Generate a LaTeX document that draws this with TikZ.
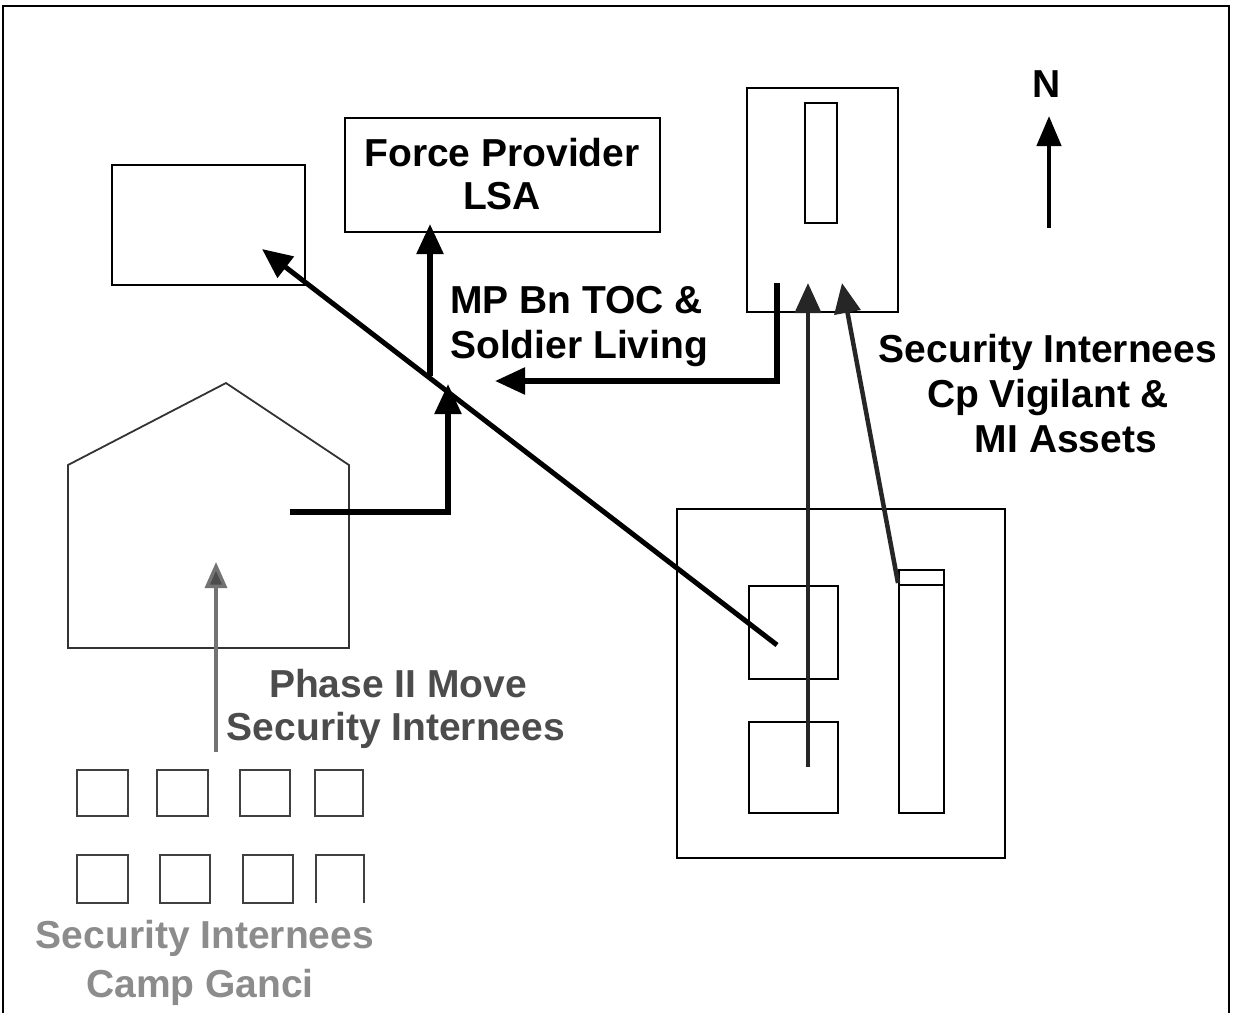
\documentclass[tikz,border=0pt]{standalone}
\usepackage{fontspec}
\setmainfont{Liberation Sans}
\usetikzlibrary{arrows.meta}
\tikzset{
  thin line/.style={draw=black,line width=1.8pt},
  bigarrow/.style={line width=5.5pt,-{Triangle[length=30pt,width=26pt]}},
  plain thick/.style={line width=5.5pt},
  lbl/.style={inner sep=0pt,font=\fontsize{39}{45}\selectfont\bfseries},
  lblgray/.style={lbl,text=black!70},
  lblpale/.style={lbl,text=black!45},
}
\begin{document}
\begin{tikzpicture}[x=1pt,y=-1pt]
\useasboundingbox[fill=white] (0,0) rectangle (1239,1013);
% frame (open at bottom)
\draw[line width=1.8pt] (3,1013) -- (3,6) -- (1229,6) -- (1229,1013);

% top-left box
\draw[thin line] (112,165) rectangle (305,285);
% Force Provider box
\draw[thin line] (345,118) rectangle (660,232);
\node[lbl,anchor=base] (fp1) at (502,166) {Force Provider};
\node[lbl,anchor=base] (fp2) at (502,209) {LSA};

% top-right building
\draw[thin line] (747,88) rectangle (898,312);
\draw[thin line] (805,103) rectangle (837,223);

% house
\draw[thin line,draw=black!80] (68,648) -- (349,648) -- (349,465) -- (226,383) -- (68,465) -- cycle;

% camp ganci squares
\foreach \x/\w in {77/51,157/51,240/50,315/48}{
  \draw[thin line,draw=black!75] (\x,770) rectangle ++(\w,46);
}
\foreach \x/\w in {77/51,160/50,243/50}{
  \draw[thin line,draw=black!75] (\x,855) rectangle ++(\w,48);
}
\draw[thin line,draw=black!75] (316,903) -- (316,855) -- (364,855) -- (364,903);

% bottom-right compound
\draw[thin line] (677,509) rectangle (1005,858);
\draw[thin line] (749,586) rectangle (838,679);
\draw[thin line] (749,722) rectangle (838,813);
\draw[thin line] (899,570) rectangle (944,813);
\draw[thin line] (899,585) -- (944,585);

% named connector points
\coordinate (diagS) at (777,645);
\coordinate (diagE) at (262,249);
\coordinate (fpS) at (430,376);
\coordinate (fpE) at (430,224);
\coordinate (hS) at (290,512);
\coordinate (hC) at (448,512);
\coordinate (hE) at (448,384);
\coordinate (trS) at (777,283);
\coordinate (trC) at (777,381);
\coordinate (trE) at (495,381);
\coordinate (v1S) at (808,767);
\coordinate (v1E) at (808,283);
\coordinate (v2S) at (898,583);
\coordinate (v2E) at (842,283);
\coordinate (gS) at (216,752);
\coordinate (gE) at (216,562);
\coordinate (nS) at (1049,228);
\coordinate (nE) at (1049,116);

% connectors
\draw[line width=5pt,-{Triangle[length=30pt,width=26pt]}] (diagS) -- (diagE);
\draw[bigarrow] (fpS) -- (fpE);
\draw[bigarrow] (hS) -- (hC) -- (hE);
\draw[bigarrow] (trS) -- (trC) -- (trE);
\draw[line width=4.5pt,draw=black!85,-{Triangle[length=30pt,width=26pt]}] (v1S) -- (v1E);
\draw[line width=4.5pt,draw=black!85,-{Triangle[length=30pt,width=26pt]}] (v2S) -- (v2E);
\draw[line width=3.5pt,draw=black!55,-{Triangle[length=26pt,width=22pt,fill=black!70]}] (gS) -- (gE);
\draw[line width=4.5pt,-{Triangle[length=30pt,width=24pt]}] (nS) -- (nE);

% labels
\node[lbl,anchor=base west] (mp1) at (450,313) {MP Bn TOC \&};
\node[lbl,anchor=base west] (mp2) at (450,358) {Soldier Living};
\node[lbl,anchor=base] (si1) at (1048,362) {Security Internees};
\node[lbl,anchor=base] (si2) at (1048,407) {Cp Vigilant \&};
\node[lbl,anchor=base] (si3) at (1066,452) {MI Assets};
\node[lbl,anchor=base] (north) at (1047,97) {N};
\node[lblgray,anchor=base] (ph1) at (398,697) {Phase II Move};
\node[lblgray,anchor=base] (ph2) at (396,740) {Security Internees};
\node[lblpale,anchor=base] (cg1) at (205,948) {Security Internees};
\node[lblpale,anchor=base] (cg2) at (200,997) {Camp Ganci};
\end{tikzpicture}
\end{document}
